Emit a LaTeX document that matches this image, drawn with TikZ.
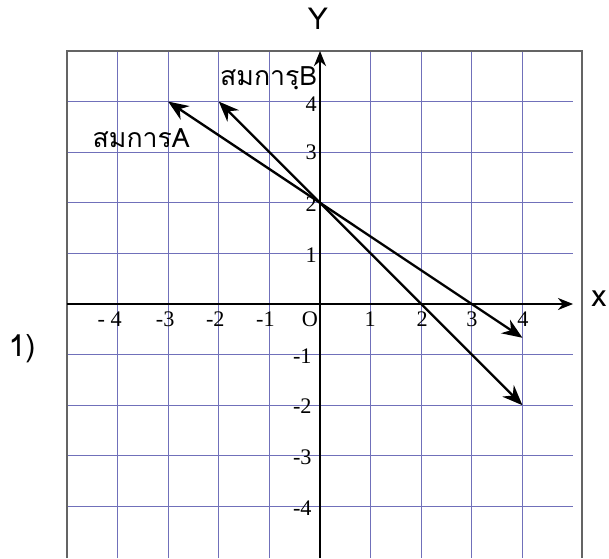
\documentclass[tikz,border=0pt]{standalone}
\usepackage{fontspec}
\usepackage{xcolor}
\usepackage{tikz}
\usetikzlibrary{arrows.meta}
\newfontfamily\thaifont[Script=Thai]{Loma}
\newfontfamily\numfont{Liberation Serif}
\definecolor{gridblue}{RGB}{112,112,186}
\definecolor{framegray}{RGB}{100,100,100}

\begin{document}
\begin{tikzpicture}[
  gridline/.style = {draw=gridblue, line width=0.55pt},
  frameline/.style = {draw=framegray, line width=0.8pt},
  axis/.style = {-{Stealth[length=3mm,width=2.4mm]}, line width=0.7pt},
  vec/.style = {{Stealth[length=4mm,width=3.2mm]}-{Stealth[length=4mm,width=3.2mm]},
                line width=1.3pt},
  ticklabel/.style = {font=\numfont\fontsize{12.5}{14}\selectfont, inner sep=0pt},
  eqlabel/.style = {font=\thaifont\fontsize{15}{17}\selectfont, inner sep=0pt},
  axislabel/.style = {font=\thaifont\fontsize{17}{20}\selectfont, inner sep=0pt},
]
\useasboundingbox (-6.324,-5.02) rectangle (5.711,6.008);

\foreach \i in {-4,-3,-2,-1,1,2,3,4} {
  \draw[gridline] (\i,-5.02) -- (\i,5);
  \draw[gridline] (-5,\i) -- (5,\i);
}
\draw[frameline] (-5,-5.02) -- (-5,5) -- (5.18,5) -- (5.18,-5.02);

\coordinate (xs) at (-5,0);
\coordinate (xe) at (5,0);
\coordinate (ys) at (0,-5.02);
\coordinate (ye) at (0,5);
\draw[axis] (xs) -- (xe);
\draw[axis] (ys) -- (ye);

\node[axislabel] (ylab) at (-0.04,5.63) {Y};
\node[axislabel] (xlab) at (5.51,0.1) {x};
\node[axislabel] (num) at (-5.89,-0.89) {1)};

\node[ticklabel, anchor=base east] (xm4) at (-3.91,-0.45) {- 4};
\node[ticklabel, anchor=base east] (xm3) at (-2.87,-0.45) {-3};
\node[ticklabel, anchor=base east] (xm2) at (-1.88,-0.45) {-2};
\node[ticklabel, anchor=base east] (xm1) at (-0.89,-0.45) {-1};
\node[ticklabel, anchor=base] (orig) at (-0.2,-0.45) {O};
\node[ticklabel, anchor=base] (xp1) at (0.99,-0.45) {1};
\node[ticklabel, anchor=base] (xp2) at (2.02,-0.45) {2};
\node[ticklabel, anchor=base] (xp3) at (3,-0.45) {3};
\node[ticklabel, anchor=base] (xp4) at (4.01,-0.45) {4};

\node[ticklabel, anchor=base east] (yp4) at (-0.06,3.81) {4};
\node[ticklabel, anchor=base east] (yp3) at (-0.06,2.85) {3};
\node[ticklabel, anchor=base east] (yp2) at (-0.06,1.83) {2};
\node[ticklabel, anchor=base east] (yp1) at (-0.06,0.83) {1};
\node[ticklabel, anchor=base east] (ym1) at (-0.16,-1.17) {-1};
\node[ticklabel, anchor=base east] (ym2) at (-0.16,-2.17) {-2};
\node[ticklabel, anchor=base east] (ym3) at (-0.16,-3.17) {-3};
\node[ticklabel, anchor=base east] (ym4) at (-0.16,-4.17) {-4};

\coordinate (a1) at (-3,4);
\coordinate (a2) at (4,-0.667);
\coordinate (b1) at (-2,4);
\coordinate (b2) at (4,-2);
\draw[vec] (a1) -- (a2);
\draw[vec] (b1) -- (b2);

\node[eqlabel, anchor=base west] (eqa) at (-4.5,3.1) {สมการA};
\node[eqlabel, anchor=base west] (eqb) at (-1.98,4.31) {สมการฺB};
\end{tikzpicture}
\end{document}
